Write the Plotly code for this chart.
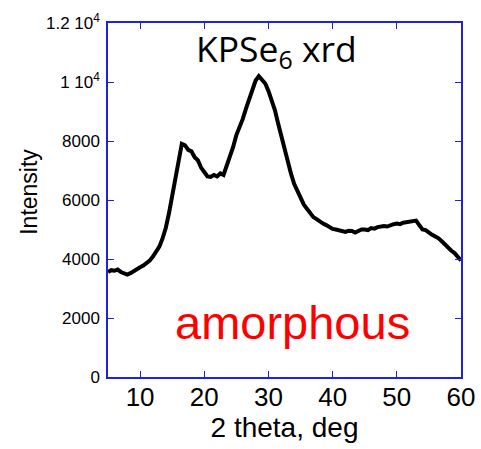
import plotly.graph_objects as go

two_theta = [5 + 0.5 * i for i in range(111)]
intensity = [3560, 3620, 3600, 3640, 3560, 3500, 3470, 3520, 3600, 3660,
             3720, 3780, 3860, 3950, 4080, 4250, 4420, 4700, 5050, 5550,
             6150, 6800, 7400, 7900, 7850, 7700, 7650, 7450, 7350, 7100,
             6950, 6800, 6780, 6850, 6800, 6900, 6850, 7150, 7500, 7800,
             8200, 8450, 8750, 9100, 9450, 9800, 10050, 10200, 10050, 9950,
             9700, 9400, 9050, 8600, 8150, 7700, 7300, 6900, 6550, 6300,
             6050, 5850, 5700, 5550, 5420, 5350, 5260, 5200, 5150, 5080,
             5020, 5000, 4980, 4940, 4920, 4960, 4950, 4900, 4960, 5000,
             5000, 4980, 5050, 5030, 5080, 5100, 5120, 5100, 5150, 5180,
             5200, 5180, 5230, 5250, 5280, 5270, 5300, 5150, 5000, 4980,
             4880, 4820, 4760, 4700, 4600, 4480, 4380, 4280, 4200, 4080,
             3950]

y_ticks = [0, 2000, 4000, 6000, 8000, 10000, 12000]
y_tick_text = ["0", "2000", "4000", "6000", "8000", "1 10<sup>4</sup>", "1.2 10<sup>4</sup>"]
x_ticks = [10, 20, 30, 40, 50, 60]

axis_blue = "#2020e0"

fig = go.Figure()
fig.add_trace(go.Scatter(x=two_theta, y=intensity, mode="lines",
                         line=dict(color="black", width=4), showlegend=False))

fig.update_layout(
    width=481, height=449,
    margin=dict(l=108, r=20, t=23, b=72, autoexpand=False),
    plot_bgcolor="white", paper_bgcolor="white",
    font=dict(family="Liberation Sans, Arial", color="black"),
)
fig.update_xaxes(range=[5, 60], tickvals=x_ticks, ticks="inside", ticklen=6, tickcolor=axis_blue,
                 showline=True, linecolor=axis_blue, linewidth=1.5, mirror="ticks", showgrid=False,
                 zeroline=False, tickfont=dict(size=26), automargin=False, ticklabelstandoff=-4,
                 title=dict(text="2 theta, deg", font=dict(size=28), standoff=6))
fig.update_yaxes(range=[0, 12000], tickvals=y_ticks, ticktext=y_tick_text, ticks="inside", ticklen=6,
                 tickcolor=axis_blue, showline=True, linecolor=axis_blue, linewidth=1.5, mirror="ticks",
                 showgrid=False, zeroline=False, tickfont=dict(size=17), ticklabelstandoff=3,
                 automargin=False)

fig.add_annotation(text="Intensity", xref="x domain", yref="y domain", x=-0.224, y=0.523,
                   xanchor="center", yanchor="middle",
                   showarrow=False, textangle=-90, font=dict(size=23))
fig.add_annotation(text="KPSe<sub>6</sub> xrd", xref="x domain", yref="y domain", x=0.476, y=0.924,
                   xanchor="center", yanchor="middle",
                   showarrow=False, font=dict(size=35.5, family="Open Sans"))
fig.add_annotation(text="amorphous", xref="x domain", yref="y domain", x=0.522, y=0.153,
                   xanchor="center", yanchor="middle",
                   showarrow=False, font=dict(size=47, color="red"))

fig.write_html("out.html")
